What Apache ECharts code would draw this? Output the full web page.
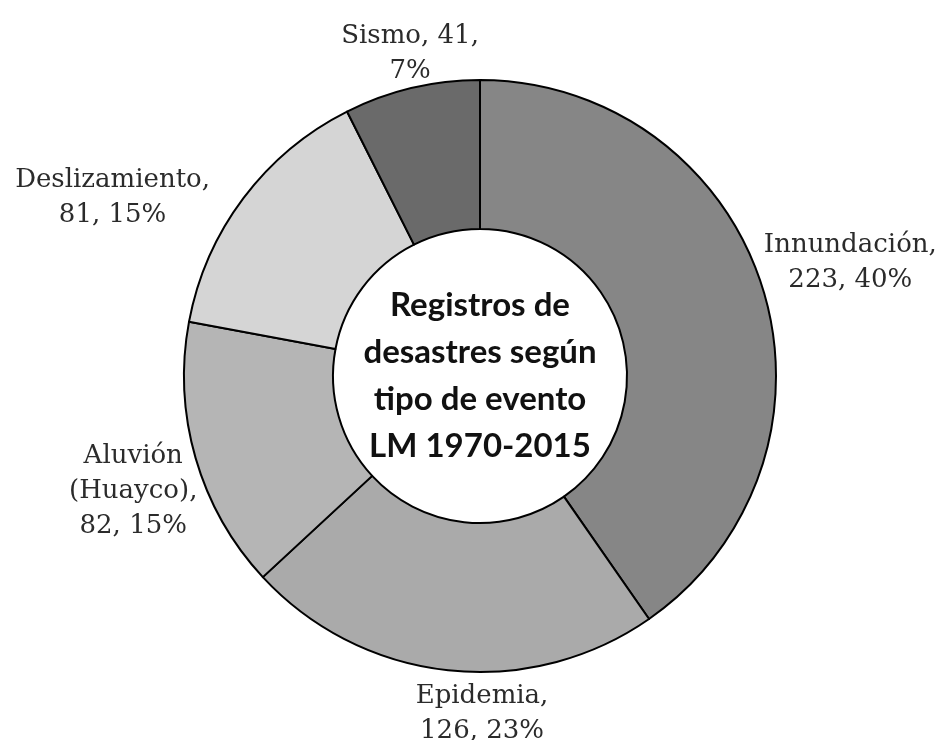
<!DOCTYPE html>
<html>
<head>
<meta charset="utf-8">
<script src="https://cdn.jsdelivr.net/npm/echarts@6/dist/echarts.min.js"></script>
<style>
  html, body { margin: 0; padding: 0; background: #fff; }
  #chart_box { width: 939px; height: 740px; }
</style>
</head>
<body>
<div id="chart_box"></div>
<script>
// datos
let categorias = ['Innundación', 'Epidemia', 'Aluvión\n(Huayco)', 'Deslizamiento', 'Sismo'];
let registros = [223, 126, 82, 81, 41];
let colores = ['#868686', '#aaaaaa', '#b5b5b5', '#d5d5d5', '#6a6a6a'];
let titulo = 'Registros de\ndesastres según\ntipo de evento\nLM 1970-2015';

let centro = [480, 376];
let radioIn = 147, radioOut = 296;
// las etiquetas del original fueron movidas a mano, se corrigen un poco
let ajusteEtiquetas = [[3, 2], [38, 6], [7, 13], [-55, 57], [9, 10]];

// angulo medio de cada sector (fraccion de vuelta, desde arriba, horario)
let total = registros.reduce(function(a, b) { return a + b; }, 0);
let acum = 0;
let medios = registros.map(function(v) {
    let m = (acum + v / 2) / total;
    acum += v;
    return m;
});

let myChart = echarts.init(document.getElementById('chart_box'));

let myOption = {
    backgroundColor: '#fff',
    animation: false,
    title: {
        text: titulo,
        left: centro[0],
        top: 282,
        padding: 0,
        textAlign: 'center',
        textStyle: {
            fontFamily: 'Lato',
            fontWeight: 'bold',
            fontSize: 33,
            lineHeight: 47,
            color: '#111'
        }
    },
    series: [{
        name: 'Registros',
        type: 'pie',
        center: centro,
        radius: [radioIn, radioOut],
        startAngle: 90,
        clockwise: true,
        avoidLabelOverlap: false,
        percentPrecision: 0,
        itemStyle: {
            borderColor: '#000',
            borderWidth: 2
        },
        label: {
            show: true,
            position: 'outside',
            fontFamily: 'DejaVu Serif',
            fontSize: 26,
            lineHeight: 35,
            color: '#2b2b2b',
            formatter: function(p) {
                // Excel parte "Sismo, 41," en otra linea
                if (p.dataIndex === 4) {
                    return p.name + ', ' + p.value + ',\n' + p.percent + '%';
                }
                return p.name + ',\n' + p.value + ', ' + p.percent + '%';
            }
        },
        labelLine: { show: false },
        labelLayout: function(p) {
            let a = medios[p.dataIndex] * 2 * Math.PI;
            let sx = Math.sin(a), sy = -Math.cos(a);
            let w = p.labelRect.width, h = p.labelRect.height;
            let d = radioOut + Math.abs(sx) * w / 2 + Math.abs(sy) * h / 2 - 4;
            let aj = ajusteEtiquetas[p.dataIndex];
            return {
                x: centro[0] + sx * d + aj[0],
                y: centro[1] + sy * d + aj[1],
                align: 'center',
                verticalAlign: 'middle'
            };
        },
        data: categorias.map(function(c, i) {
            return { name: c, value: registros[i], itemStyle: { color: colores[i] } };
        })
    }]
};

myChart.setOption(myOption);
</script>
</body>
</html>
